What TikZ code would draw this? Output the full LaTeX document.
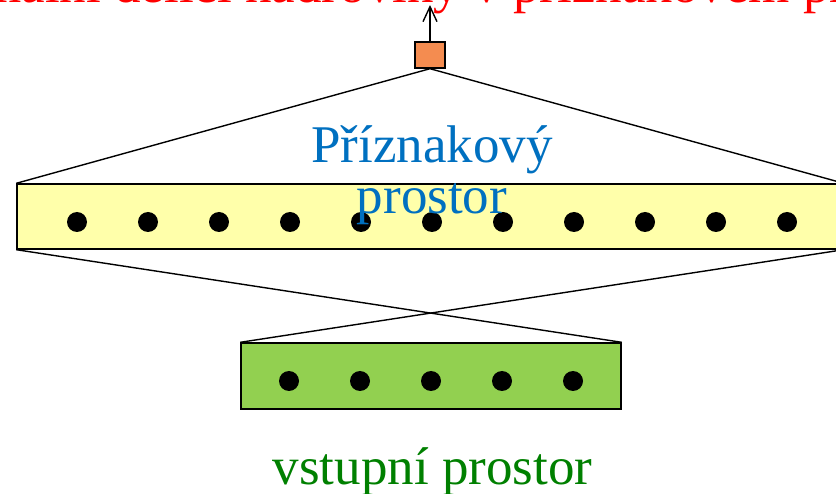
\documentclass[tikz,border=0pt]{standalone}
\usepackage{fontspec}
\setmainfont{Liberation Serif}
\usetikzlibrary{arrows.meta}
\definecolor{featfill}{RGB}{255,255,170}
\definecolor{inpfill}{RGB}{146,208,80}
\definecolor{outfill}{RGB}{244,140,80}
\definecolor{bluetxt}{RGB}{0,112,192}
\definecolor{greentxt}{RGB}{0,128,0}
\definecolor{redtxt}{RGB}{255,0,0}
\tikzset{
  bigtext/.style={font=\fontsize{53}{51}\selectfont, inner sep=0pt},
  layerbox/.style={draw=black, line width=1.4pt, inner sep=0pt},
  unit/.style={circle, fill=black, inner sep=0pt, minimum size=20pt},
  link/.style={line width=1.4pt},
}
\begin{document}
\begin{tikzpicture}[x=1pt,y=-1pt]
\useasboundingbox (0,0) rectangle (836,494);
\clip (0,0) rectangle (836,494);
% boxes
\node[layerbox, fill=featfill, minimum width=826pt, minimum height=65pt] (feat) at (430,216.5) {};
\node[layerbox, fill=inpfill, minimum width=380pt, minimum height=66pt] (inp) at (431,376) {};
\node[layerbox, fill=outfill, minimum width=30pt, minimum height=26pt] (out) at (430,55) {};
\coordinate (top) at (430,5);
% connectors
\draw[link] (out.south) -- (feat.north west);
\draw[link] (out.south) -- (feat.north east);
\draw[link] (feat.south west) -- (inp.north east);
\draw[link] (feat.south east) -- (inp.north west);
\draw[link, -{Straight Barb[length=15pt, width=14pt, line width=1.4pt]}] (out.north) -- (top);
% units
\foreach \i in {0,...,10} { \node[unit] (f\i) at (77+71*\i,222) {}; }
\foreach \i in {0,...,4} { \node[unit] (u\i) at (289+71*\i,381) {}; }
% texts
\node[bigtext, text=redtxt, anchor=base west] (title) at (513,2.5) {\llap{Nalezení optimální dělicí nadroviny v }příznakovém prostoru};
\node[bigtext, text=bluetxt, align=center, anchor=base] (featlbl) at (432,214) {Příznakový\\prostor};
\node[bigtext, text=greentxt, anchor=base] (inplbl) at (432.5,484) {vstupní prostor};
\end{tikzpicture}
\end{document}
